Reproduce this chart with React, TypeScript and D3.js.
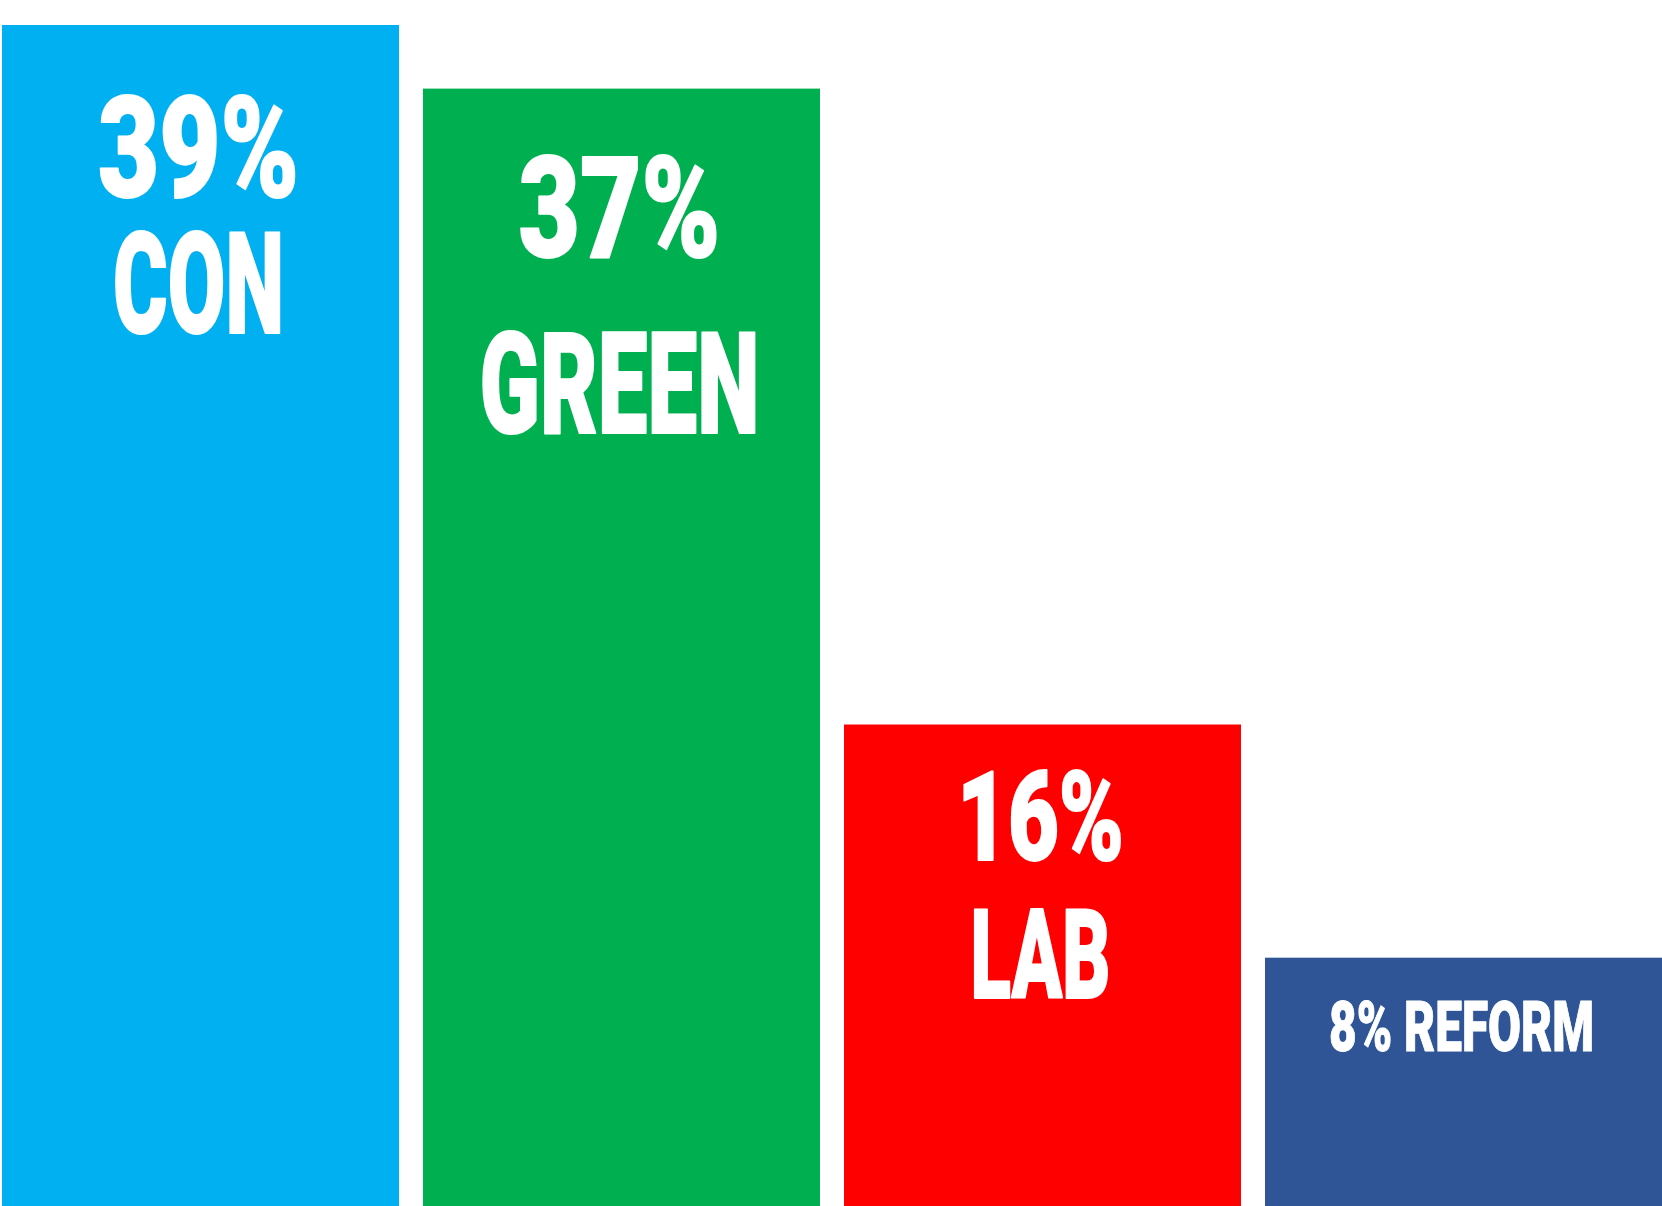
import React from "react";
import * as d3 from "d3";

const parties = ["CON", "GREEN", "LAB", "REFORM"];
const shares = [39, 36.9, 15.9, 8.2];
const colors = ["#00B0F0", "#00B050", "#FF0000", "#2F5597"];

const W = 1662;
const H = 1206;

// label styling per bar: font size, baseline offsets from bar top, target text widths
const labelStyle = [
  { size: 141, line1: 172, line2: 308, w1: 201, w2: 171, twoLine: true },
  { size: 141, line1: 168, line2: 344, w1: 202, w2: 280, twoLine: true },
  { size: 124, line1: 135, line2: 273, w1: 167, w2: 140, twoLine: true },
  { size: 70, line1: 93, line2: 0, w1: 265, w2: 0, twoLine: false },
];

const FONT = "Roboto, 'Noto Sans', 'DejaVu Sans Condensed', sans-serif";

function Label(props: { x: number; y: number; size: number; w: number; text: string }) {
  return (
    <text
      x={props.x}
      y={props.y}
      textAnchor="middle"
      fill="#fff"
      stroke="#fff"
      strokeWidth={props.size > 100 ? 2 : 1}
      strokeLinejoin="round"
      fontFamily={FONT}
      fontWeight={900}
      fontSize={props.size}
      textLength={props.w}
      lengthAdjust="spacingAndGlyphs"
    >
      {props.text}
    </text>
  );
}

export default function App() {
  const x = d3
    .scaleBand<string>()
    .domain(parties)
    .range([2, W])
    .paddingInner(0.057)
    .paddingOuter(0);

  const y = d3.scaleLinear().domain([0, 39]).range([H, 25]);

  return (
    <div style={{ position: "absolute", left: 0, top: 0 }}>
      <svg width={W} height={H} style={{ display: "block" }}>
        <rect x={0} y={0} width={W} height={H} fill="#ffffff" />
        {parties.map((p, i) => {
          const bx = x(p) as number;
          const bw = x.bandwidth();
          const top = y(shares[i]);
          const cx = bx + bw / 2;
          const st = labelStyle[i];
          const pct = `${Math.round(shares[i])}%`;
          return (
            <g key={p}>
              <rect x={bx} y={top} width={bw} height={H - top} fill={colors[i]} />
              {st.twoLine ? (
                <>
                  <Label x={cx - 2} y={top + st.line1} size={st.size} w={st.w1} text={pct} />
                  <Label x={cx - 2} y={top + st.line2} size={st.size} w={st.w2} text={p} />
                </>
              ) : (
                <Label x={cx - 2} y={top + st.line1} size={st.size} w={st.w1} text={`${pct} ${p}`} />
              )}
            </g>
          );
        })}
      </svg>
    </div>
  );
}
